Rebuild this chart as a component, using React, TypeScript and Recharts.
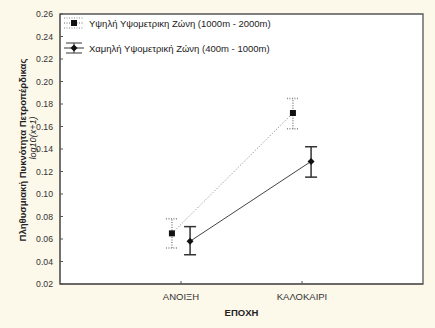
import {
  LineChart,
  Line,
  XAxis,
  YAxis,
  ErrorBar,
  CartesianGrid,
  ReferenceArea,
} from "recharts";

const seasons = ["ΑΝΟΙΞΗ", "ΚΑΛΟΚΑΙΡΙ"];
const seriesNames = [
  "Υψηλή Υψομετρικη Ζώνη (1000m - 2000m)",
  "Χαμηλή Υψομετρική Ζώνη (400m - 1000m)",
];
const highMean = [0.065, 0.172];
const highLower = [0.052, 0.158];
const highUpper = [0.078, 0.185];
const lowMean = [0.058, 0.129];
const lowLower = [0.046, 0.115];
const lowUpper = [0.071, 0.142];
const yTicks = [0.02, 0.04, 0.06, 0.08, 0.1, 0.12, 0.14, 0.16, 0.18, 0.2, 0.22, 0.24, 0.26];

const FONT = "'Liberation Sans', Arial, sans-serif";
const OFFSET = 0.075; // small dodge so the two series don't overlap

const build = (mean: number[], lo: number[], hi: number[], shift: number) =>
  mean.map((m, i) => ({
    x: i + 1 + shift,
    y: m,
    err: [m - lo[i], hi[i] - m],
  }));

const highData = build(highMean, highLower, highUpper, -OFFSET);
const lowData = build(lowMean, lowLower, lowUpper, OFFSET);

const SquareDot = (p: any) => (
  <rect key={p.index} x={p.cx - 3} y={p.cy - 3} width={6} height={6} fill="#111" />
);
const DiamondDot = (p: any) => (
  <polygon
    key={p.index}
    points={`${p.cx},${p.cy - 3.5} ${p.cx + 3.5},${p.cy} ${p.cx},${p.cy + 3.5} ${p.cx - 3.5},${p.cy}`}
    fill="#111"
  />
);

function LegendBox() {
  return (
    <div
      style={{
        position: "absolute",
        left: 63,
        top: 15,
        fontFamily: FONT,
        fontSize: 9.5,
        color: "#222",
      }}
    >
      <div style={{ display: "flex", alignItems: "center", height: 16 }}>
        <svg width={22} height={12}>
          <line x1={1} y1={6} x2={21} y2={6} stroke="#666" strokeDasharray="1 1.5" />
          <line x1={1} y1={1} x2={21} y2={1} stroke="#888" strokeDasharray="1 1.5" />
          <line x1={1} y1={11} x2={21} y2={11} stroke="#888" strokeDasharray="1 1.5" />
          <rect x={8} y={3} width={6} height={6} fill="#111" />
        </svg>
        <span style={{ marginLeft: 4 }}>{seriesNames[0]}</span>
      </div>
      <div style={{ display: "flex", alignItems: "center", height: 16, marginTop: 9 }}>
        <svg width={22} height={12}>
          <line x1={1} y1={6} x2={21} y2={6} stroke="#333" />
          <line x1={3} y1={1} x2={19} y2={1} stroke="#333" />
          <line x1={3} y1={11} x2={19} y2={11} stroke="#333" />
          <line x1={11} y1={1} x2={11} y2={11} stroke="#333" />
          <polygon points="11,2.5 14.5,6 11,9.5 7.5,6" fill="#111" />
        </svg>
        <span style={{ marginLeft: 4 }}>{seriesNames[1]}</span>
      </div>
    </div>
  );
}

const YLabel = () => (
  <g>
    <text
      x={0}
      y={0}
      transform="translate(26, 150) rotate(-90)"
      textAnchor="middle"
      fontFamily={FONT}
      fontSize={9.5}
      fontWeight="bold"
      fill="#222"
    >
      Πληθυσμιακή Πυκνότητα Πετροπέρδικας
    </text>
    <text
      x={0}
      y={0}
      transform="translate(36, 138) rotate(-90)"
      textAnchor="middle"
      fontFamily={FONT}
      fontSize={9}
      fontStyle="italic"
      fill="#222"
    >
      log10(x+1)
    </text>
  </g>
);

export default function App() {
  return (
    <div style={{ position: "absolute", left: 0, top: 0, width: 435, height: 328, background: "#fcf8ea" }}>
      <LineChart width={435} height={328} margin={{ top: 14, right: 12, bottom: 0, left: 0 }}>
        <CartesianGrid horizontal={false} vertical={false} fill="#fff" />
        <XAxis
          dataKey="x"
          type="number"
          domain={[0, 3]}
          ticks={[1, 2]}
          tickFormatter={(v: number) => seasons[v - 1]}
          height={44}
          stroke="#555"
          tickSize={-3}
          tickMargin={12}
          tick={{ fontFamily: FONT, fontSize: 9.5, fill: "#333" }}
          allowDuplicatedCategory={false}
          label={{
            value: "ΕΠΟΧΗ",
            position: "insideBottom",
            offset: 12,
            style: { fontFamily: FONT, fontSize: 9.5, fontWeight: "bold", fill: "#222" },
          }}
        />
        <YAxis
          type="number"
          domain={[0.02, 0.26]}
          ticks={yTicks}
          tickFormatter={(v: number) => v.toFixed(2)}
          width={60}
          stroke="#555"
          tickSize={-3}
          tickMargin={10}
          tick={{ fontFamily: FONT, fontSize: 8.7, fill: "#333" }}
          label={<YLabel />}
        />
        <ReferenceArea
          x1={0}
          x2={3}
          y1={0.02}
          y2={0.26}
          fill="none"
          stroke="#555"
          strokeWidth={1.3}
          ifOverflow="visible"
        />
        <Line
          data={highData}
          dataKey="y"
          name={seriesNames[0]}
          stroke="#777"
          strokeDasharray="1 2"
          dot={SquareDot}
          activeDot={false}
          isAnimationActive={false}
        >
          <ErrorBar dataKey="err" direction="y" width={6} stroke="#888" strokeDasharray="1 1.5" />
        </Line>
        <Line
          data={lowData}
          dataKey="y"
          name={seriesNames[1]}
          stroke="#444"
          dot={DiamondDot}
          activeDot={false}
          isAnimationActive={false}
        >
          <ErrorBar dataKey="err" direction="y" width={6} stroke="#333" />
        </Line>
      </LineChart>
      <LegendBox />
    </div>
  );
}
